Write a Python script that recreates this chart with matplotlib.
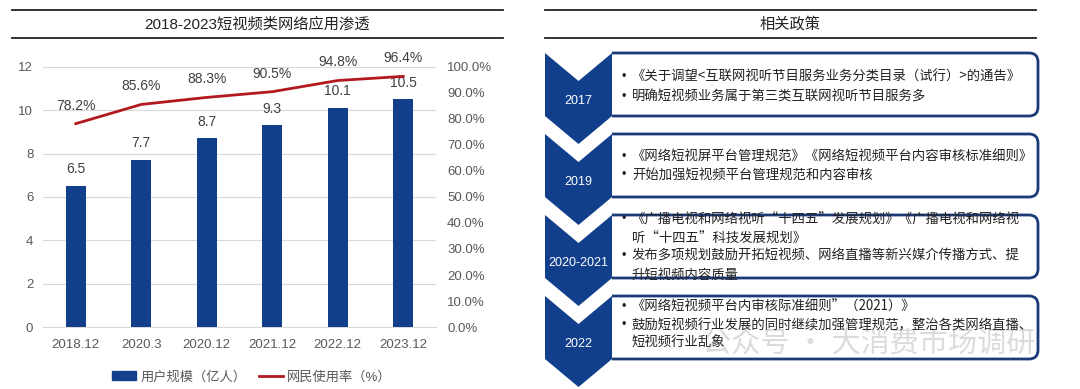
import matplotlib.pyplot as plt
import numpy as np
from matplotlib.patches import Polygon, FancyBboxPatch, Patch, Rectangle
from matplotlib.lines import Line2D

plt.rcParams['font.family'] = ['Liberation Sans', 'Noto Sans CJK SC', 'DejaVu Sans']
CJK = ['Noto Sans CJK SC', 'DejaVu Sans']

periods = ['2018.12', '2020.3', '2020.12', '2021.12', '2022.12', '2023.12']
users = [6.5, 7.7, 8.7, 9.3, 10.1, 10.5]
usage_rate = [78.2, 85.6, 88.3, 90.5, 94.8, 96.4]

policy_years = ['2017', '2019', '2020-2021', '2022']
policy_lines = [
    ['《关于调望<互联网视听节目服务业务分类目录（试行）>的通告》',
     '明确短视频业务属于第三类互联网视听节目服务多'],
    ['《网络短视屏平台管理规范》《网络短视频平台内容审核标准细则》',
     '开始加强短视频平台管理规范和内容审核'],
    ['《广播电视和网络视听“十四五”发展规划》《广播电视和网络视\n听“十四五”科技发展规划》',
     '发布多项规划鼓励开拓短视频、网络直播等新兴媒介传播方式、提\n升短视频内容质量'],
    ['《网络短视频平台内审核际准细则”（2021）》',
     '鼓励短视频行业发展的同时继续加强管理规范，整治各类网络直播、\n短视频行业乱象'],
]

BLUE = '#123f8c'
RED = '#b2191f'
GRAY = '#595959'

W, H = 1080, 389
fig = plt.figure(figsize=(W / 100, H / 100), dpi=100)

# overlay in pixel coords for titles and the policy panel
ov = fig.add_axes([0, 0, 1, 1], zorder=0)
ov.set_xlim(0, W)
ov.set_ylim(H, 0)
ov.axis('off')

for x0, x1, cx, title in [(12, 503, 257, '2018-2023短视频类网络应用渗透'),
                          (545, 1036, 790, '相关政策')]:
    ov.plot([x0, x1], [10, 10], color='#222222', lw=1.3)
    ov.plot([x0, x1], [38, 38], color='#222222', lw=1.3)
    ov.text(cx, 24, title, ha='center', va='center', fontsize=11, color='#222222')

# --- bar + line chart
ax = fig.add_axes([43 / W, 1 - 327 / H, 393 / W, 260 / H], zorder=2)
ax.patch.set_alpha(0)
x = np.arange(len(periods))
ax.bar(x, users, width=0.31, color=BLUE, zorder=3)
ax.set_ylim(0, 12)
ax.set_yticks(range(0, 13, 2))
ax.set_xlim(-0.5, len(periods) - 0.5)
ax.set_xticks(x)
ax.set_xticklabels(periods)
ax.grid(axis='y', color='#d9d9d9', lw=0.8, zorder=0)
for s in ax.spines.values():
    s.set_visible(False)
ax.spines['bottom'].set_visible(True)
ax.spines['bottom'].set_color('#d9d9d9')
ax.tick_params(length=0, labelsize=9.5, colors=GRAY, pad=9)
ax.tick_params(axis='y', pad=7)
for xi, v in zip(x, users):
    ax.annotate(f'{v}', (xi, v), xytext=(0, 7), textcoords='offset points',
                ha='center', va='bottom', fontsize=10, color='#404040')

ax2 = ax.twinx()
ax2.plot(x, np.array(usage_rate) / 100, color=RED, lw=2, zorder=4)
ax2.set_ylim(0, 1.0)
ax2.set_yticks(np.arange(0, 1.01, 0.1))
ax2.set_yticklabels([f'{t * 100:.1f}%' for t in np.arange(0, 1.01, 0.1)])
for s in ax2.spines.values():
    s.set_visible(False)
ax2.tick_params(length=0, labelsize=9.5, colors=GRAY, pad=8)
for xi, v in zip(x, usage_rate):
    ax2.annotate(f'{v}%', (xi, v / 100), xytext=(0, 8), textcoords='offset points',
                 ha='center', va='bottom', fontsize=10, color='#404040')

handles = [Patch(color=BLUE), Line2D([], [], color=RED, lw=2)]
fig.legend(handles, ['用户规模（亿人）', '网民使用率（%）'], loc='center',
           bbox_to_anchor=(252 / W, 1 - 377 / H), ncol=2, frameon=False,
           fontsize=9.5, labelcolor=GRAY, handlelength=1.8, handleheight=0.6,
           columnspacing=1.0, handletextpad=0.3)

# --- policy timeline
period_px = 81
top0 = 53
side_h = 63
notch = 28
cx0, cx1 = 545, 612
line_start = [77, 157, 219, 307]
line_step = [20, 18, 18.5, 18]
for i, (year, lines) in enumerate(zip(policy_years, policy_lines)):
    t = top0 + i * period_px
    b = t + side_h
    chev = Polygon([(cx0, t), ((cx0 + cx1) / 2, t + notch), (cx1, t),
                    (cx1, b), ((cx0 + cx1) / 2, b + notch), (cx0, b)],
                   closed=True, facecolor=BLUE, edgecolor='none', zorder=2)
    ov.add_patch(chev)
    box = FancyBboxPatch((cx1 - 14, t), 1038 - cx1 + 14, side_h,
                         boxstyle='round,pad=0,rounding_size=9',
                         facecolor='white', edgecolor='#1b3a78', lw=2, zorder=1)
    ov.add_patch(box)
    box.set_clip_path(Rectangle((cx1, t - 5), 500, side_h + 10, transform=ov.transData))
    ov.text((cx0 + cx1) / 2, b - 15, year, ha='center', va='center',
            color='white', fontsize=9, zorder=3)
    y = line_start[i]
    for ln in lines:
        ov.text(622, y, '•', ha='left', va='center', fontsize=9, color='#222222', zorder=3)
        for p in ln.split('\n'):
            ov.text(632, y, p, ha='left', va='center', fontsize=9.6, family=CJK,
                    color='#222222', zorder=3)
            y += line_step[i]

# faint watermark drawn under the box text
ov.text(1035, 345, '公众号 · 大消费市场调研', ha='right', va='center', fontsize=21,
        family=CJK, color='#9a9a9a', alpha=0.35, zorder=1.5)

fig.savefig('out.png', dpi=100)
